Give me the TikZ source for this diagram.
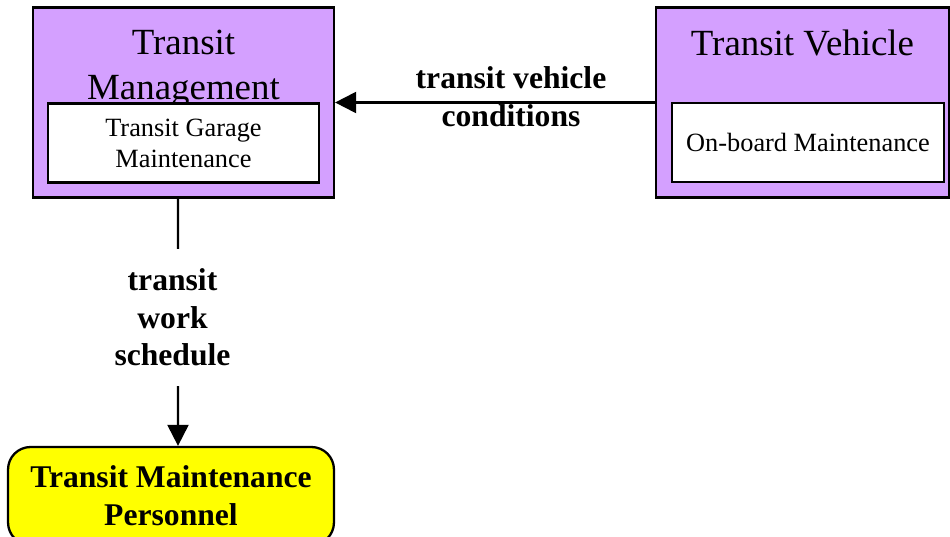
\documentclass[tikz,border=0pt]{standalone}
\usepackage{fontspec}
\setmainfont{Liberation Serif}
\usetikzlibrary{arrows.meta}
\definecolor{mauve}{RGB}{212,160,255}%fond des terminaux
\definecolor{jaune}{RGB}{255,255,0}%fond du personnel
\begin{document}
\begin{tikzpicture}[x=0.02cm,y=-0.02cm,
  grand/.style={draw,line width=1.3pt,fill=mauve,inner sep=0pt,minimum height=3.8cm},
  petit/.style={draw,line width=1.3pt,fill=white,align=center,inner sep=0pt,minimum height=1.58cm,
    font=\fontsize{15}{17.6}\selectfont},
  titre/.style={align=center,font=\fontsize{21}{25.5}\selectfont},
  etiq/.style={align=center,font=\bfseries\fontsize{18}{21.5}\selectfont},
  fleche/.style={line width=1.2pt,-{Triangle[length=12pt,width=12pt]}}]
\useasboundingbox (0,0) rectangle (950,537);
\clip (0,0) rectangle (950,537);
% terminaux
\node[grand,minimum width=6.02cm] (tm) at (183.5,102.5) {};
\node[titre] (tmtitre) at (183.5,69) {Transit\\Management};
\node[petit,minimum width=5.42cm] (tgm) at (183.5,143) {Transit Garage\\Maintenance};
\node[grand,minimum width=5.86cm] (tv) at (802.5,102.5) {};
\node[titre] (tvtitre) at (802.5,42.5) {Transit Vehicle};
\node[petit,minimum width=5.44cm] (obm) at (808,142.5) {On-board Maintenance};
% personnel
\node[draw,line width=1.3pt,fill=jaune,rounded corners=0.45cm,minimum width=6.52cm,minimum height=1.96cm,
  etiq] (tmp) at (171,496) {Transit Maintenance\\Personnel};
% flux
\draw[fleche] (tv.west) -- node[etiq,pos=0.45,yshift=0.12cm] (tvc) {transit vehicle\\conditions} (tm.east);
\draw[fleche] ([xshift=-0.11cm]tm.south) -- node[etiq,fill=white,inner xsep=2pt,inner ysep=11pt,
  xshift=-0.11cm,yshift=0.1cm] (tws) {transit\\work\\schedule} ([xshift=0.14cm]tmp.north);
\end{tikzpicture}
\end{document}
